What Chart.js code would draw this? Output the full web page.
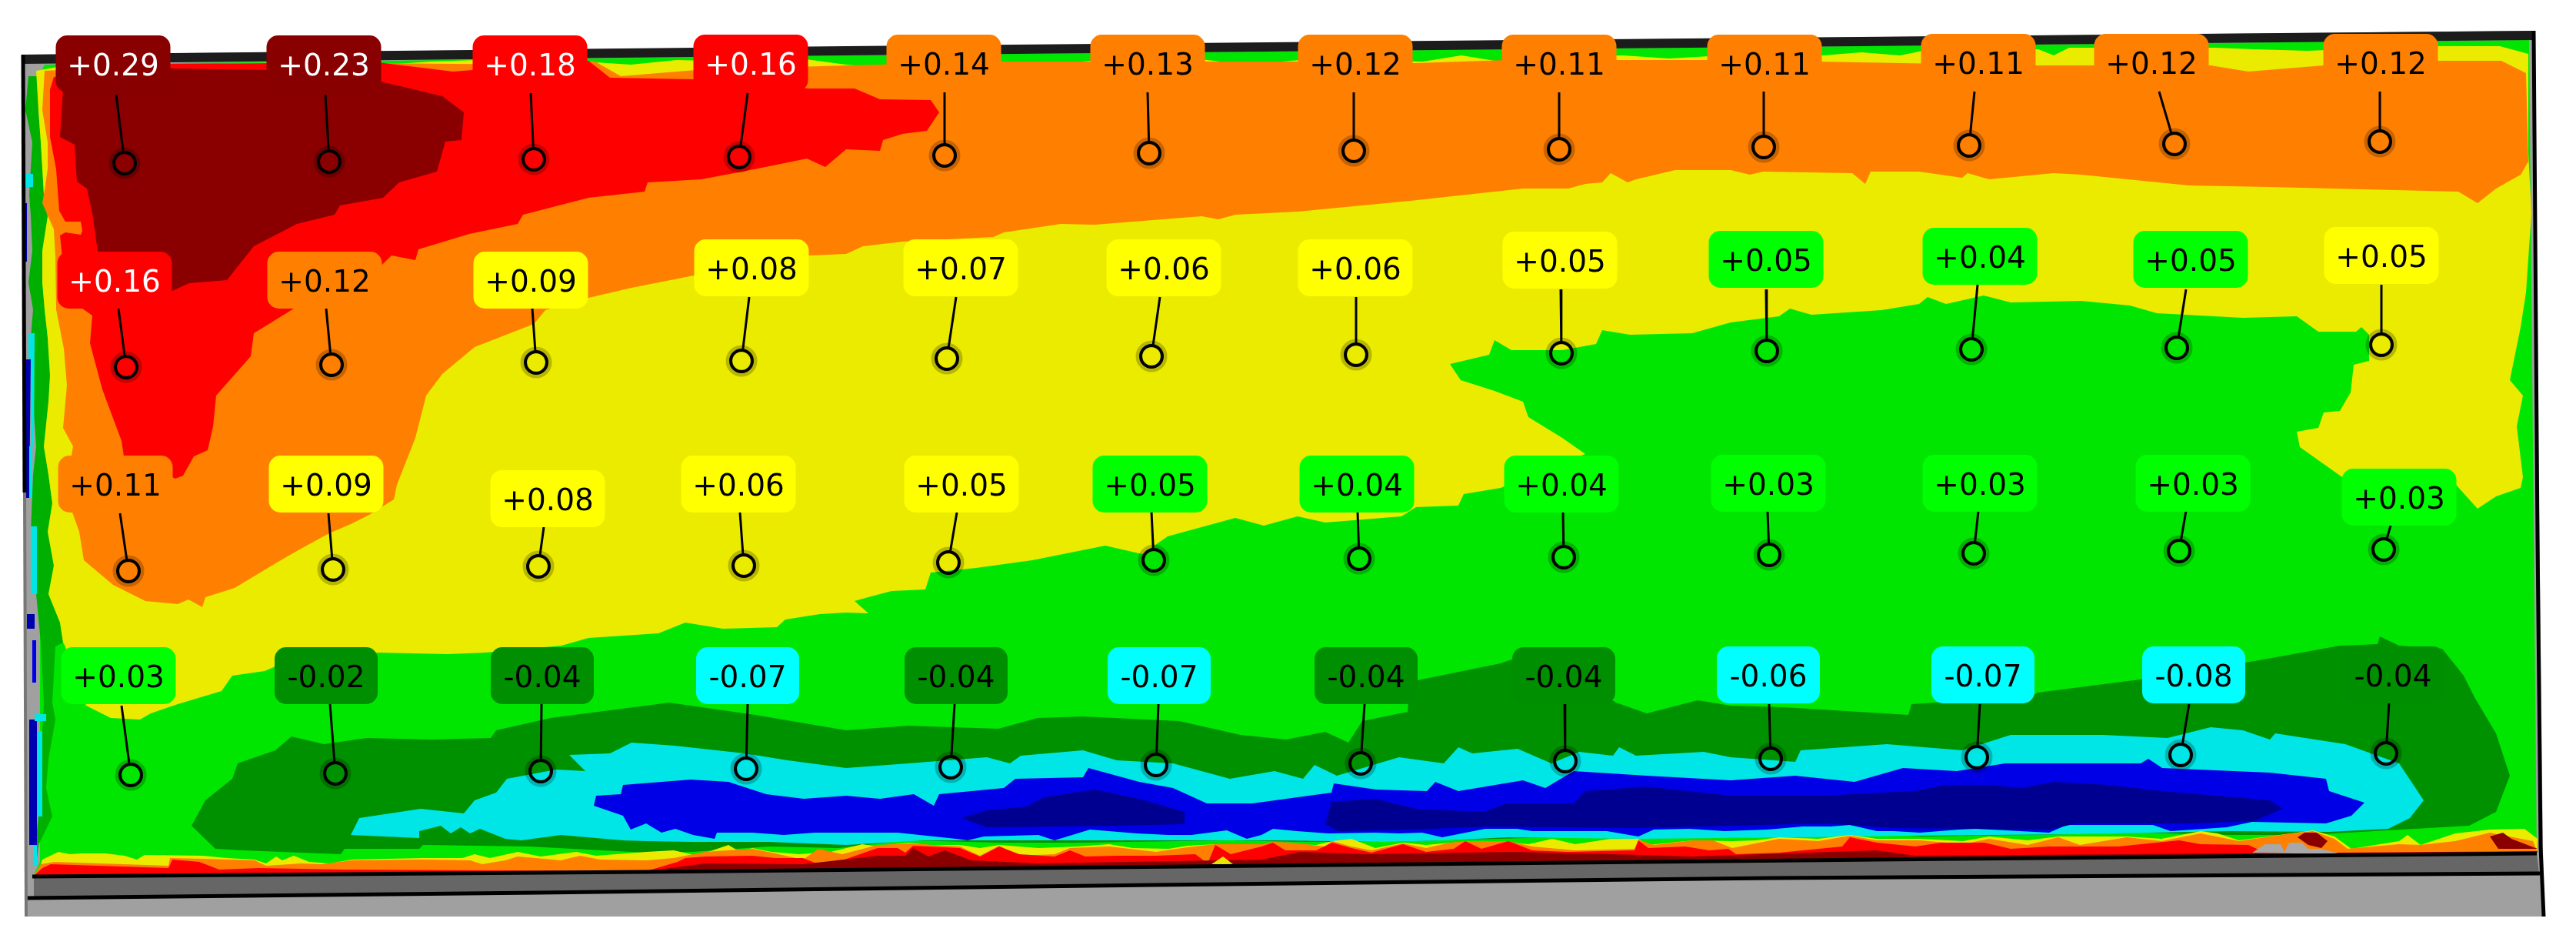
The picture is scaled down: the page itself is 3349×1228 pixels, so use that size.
<!DOCTYPE html>
<html>
<head>
<meta charset="utf-8">
<title>Strain map</title>
<script src="https://cdn.jsdelivr.net/npm/chart.js@4"></script>
<style>
  html, body { margin: 0; padding: 0; background: #fff; }
  canvas { display: block; }
</style>
</head>
<body>
<canvas id="strainChart" width="3349" height="1228"></canvas>
<script>
// gauge readings, one list per row of the plate
const row1Values = [0.29, 0.23, 0.18, 0.16, 0.14, 0.13, 0.12, 0.11, 0.11, 0.11, 0.12, 0.12];
const row2Values = [0.16, 0.12, 0.09, 0.08, 0.07, 0.06, 0.06, 0.05, 0.05, 0.04, 0.05, 0.05];
const row3Values = [0.11, 0.09, 0.08, 0.06, 0.05, 0.05, 0.04, 0.04, 0.03, 0.03, 0.03, 0.03];
const row4Values = [0.03, -0.02, -0.04, -0.07, -0.04, -0.07, -0.04, -0.04, -0.06, -0.07, -0.08, -0.04];
// colour class of each label
const row1Bands = 'DDRROOOOOOOO';
const row2Bands = 'ROYYYYYYGGGY';
const row3Bands = 'OYYYYGGGGGGG';
const row4Bands = 'GKKCKCKKCCCK';

// gauge positions
const ringX = [162,428,694,961,1228,1494,1760,2027,2293,2560,2827,3094,
  164,431,697,964,1231,1497,1763,2030,2297,2563,2830,3096,
  167,433,700,967,1233,1500,1767,2033,2300,2566,2833,3099,
  170,436,703,970,1236,1503,1769,2035,2302,2570,2835,3102];
const ringY = [212,210,207,204,202,199,196,194,191,189,187,184,
  477,474,471,469,466,463,461,459,456,454,452,448,
  742,740,736,735,731,728,726,724,721,719,716,714,
  1007,1005,1002,999,997,994,992,989,986,984,981,979];
const leadX = [151,423,690,972,1228,1492,1760,2027,2293,2567,2807,3094,
  154,424,692,974,1243,1508,1763,2029,2296,2571,2842,3096,
  156,427,707,962,1244,1497,1765,2032,2298,2572,2842,3108,
  158,429,704,972,1241,1506,1774,2034,2300,2574,2846,3106];
const leadY = [123,123,121,121,120,120,120,120,119,119,119,119,
  401,401,401,386,386,386,386,376,376,370,376,370,
  667,667,685,666,666,665,665,665,664,664,664,683,
  917,915,915,915,915,915,915,915,915,915,915,913];
const labelX = [147,421,689,976,1227,1492,1762,2027,2294,2572,2797,3095,
  149,422,690,977,1249,1513,1762,2028,2296,2574,2848,3096,
  150,424,712,960,1250,1495,1764,2030,2299,2574,2851,3119,
  154,424,705,972,1243,1507,1776,2033,2299,2578,2852,3111];
const labelY = [83,83,83,82,82,82,82,82,82,81,81,81,
  364,364,364,348,348,348,348,338,337,333,337,332,
  629,629,648,629,629,629,629,629,628,628,628,646,
  878,878,878,878,878,878,878,878,877,877,877,877];

// contour outlines
const plateOutline = [[28,71],[3294,40],[3307,1191],[34,1191]];
const greenBase = [[52,96],[58,84],[1100,72],[3288,52],[3298,1110],[1640,1125],[840,1133],[44,1137],[52,1120]];
const yellowRegion = [[47,92],[80,86],[230,84],[330,82],[440,80],[500,84],[560,80],[620,78],[760,80],[820,84],[880,78],[960,80],[1040,76],[1100,84],[1150,88],[1310,80],[1360,84],[1430,78],[1490,74],[1570,78],[1620,84],[1690,78],[1850,80],[1900,72],[1950,80],[2010,74],[2110,72],[2170,76],[2240,72],[2370,72],[2420,68],[2470,72],[2500,66],[2650,64],[2670,72],[2690,62],[2730,62],[2880,62],[2930,64],[3000,66],[3100,62],[3170,60],[3250,60],[3287,70],[3287,198],[3291,277],[3284,380],[3277,425],[3263,494],[3280,514],[3272,554],[3280,620],[3277,634],[3245,645],[3221,661],[3193,630],[3119,611],[3045,620],[2990,581],[2986,561],[3014,556],[3021,536],[3042,534],[3056,510],[3060,474],[3080,469],[3080,435],[3070,425],[3063,431],[3014,431],[2986,411],[2916,413],[2804,407],[2769,397],[2706,391],[2614,393],[2579,384],[2530,395],[2506,386],[2495,395],[2446,403],[2355,409],[2327,401],[2313,411],[2250,419],[2200,433],[2119,435],[2083,429],[2075,447],[2031,455],[1965,455],[1943,442],[1936,461],[1885,473],[1899,494],[1943,508],[1980,522],[1987,542],[2031,569],[2061,590],[2000,612],[1951,634],[1903,642],[1896,657],[1841,659],[1822,671],[1723,679],[1687,671],[1643,683],[1606,673],[1518,697],[1485,720],[1437,709],[1342,728],[1269,738],[1210,744],[1203,766],[1159,768],[1129,776],[1111,781],[1129,797],[1100,796],[1066,798],[1021,805],[1010,815],[940,817],[891,809],[856,823],[765,829],[730,839],[631,848],[582,850],[491,848],[358,866],[344,872],[302,878],[288,898],[231,915],[196,927],[182,935],[144,933],[112,917],[84,838],[82,835],[78,809],[63,772],[70,735],[62,691],[68,654],[63,617],[57,580],[63,522],[65,488],[62,439],[58,402],[55,367],[55,326],[62,281],[57,253],[55,219],[53,185],[50,143]];
const orangeRegion = [[58,92],[230,85],[480,82],[700,84],[772,79],[807,99],[905,91],[1100,85],[1300,80],[1560,80],[1700,80],[1840,82],[1960,78],[2250,78],[2640,85],[2874,85],[2923,93],[3021,85],[3161,79],[3252,79],[3284,95],[3287,210],[3277,227],[3245,245],[3221,264],[3196,249],[2951,243],[2846,241],[2706,227],[2670,225],[2586,233],[2558,225],[2551,231],[2495,223],[2432,223],[2425,239],[2408,225],[2292,223],[2275,227],[2250,221],[2178,221],[2127,233],[2116,237],[2094,225],[2083,237],[2061,239],[2039,245],[1980,245],[1833,261],[1687,275],[1606,279],[1584,285],[1562,281],[1423,292],[1379,291],[1305,302],[1291,308],[1173,314],[1122,320],[1100,330],[1052,332],[912,356],[821,374],[765,387],[709,403],[694,421],[617,451],[575,486],[554,514],[540,569],[516,630],[512,649],[480,669],[456,681],[428,693],[393,712],[365,728],[305,764],[267,776],[263,789],[245,779],[231,785],[189,781],[147,760],[109,728],[103,691],[92,660],[88,620],[95,580],[82,556],[87,501],[83,453],[73,402],[72,333],[70,298],[55,264],[58,247],[62,219],[62,185],[55,143]];
const redRegion = [[70,100],[224,83],[491,81],[589,93],[765,79],[793,101],[901,103],[1052,115],[1100,115],[1111,115],[1144,129],[1210,130],[1221,146],[1205,170],[1173,174],[1148,182],[1144,196],[1100,194],[1073,217],[1049,206],[1010,214],[975,221],[912,233],[842,237],[838,249],[765,257],[680,279],[673,291],[610,304],[544,324],[540,338],[509,332],[470,370],[382,401],[330,433],[326,463],[281,514],[277,554],[270,585],[252,593],[238,618],[228,622],[161,593],[158,573],[133,506],[117,446],[120,410],[84,385],[80,325],[78,306],[85,302],[105,305],[107,300],[105,288],[85,288],[77,274],[73,220],[65,178],[65,116]];
const darkRedRegion = [[83,100],[224,89],[351,91],[491,105],[533,115],[575,125],[603,146],[600,182],[579,184],[568,223],[519,237],[498,257],[442,267],[435,279],[386,291],[330,320],[295,364],[246,368],[224,378],[140,340],[127,326],[120,277],[113,245],[100,236],[97,188],[78,178]];
const darkGreenRegion = [[249,1073],[267,1040],[302,1012],[309,992],[358,975],[379,957],[421,967],[477,959],[561,961],[638,959],[645,949],[716,933],[870,913],[982,929],[1100,949],[1181,943],[1298,947],[1349,933],[1408,931],[1533,937],[1613,955],[1672,961],[1723,951],[1753,965],[1771,937],[1830,925],[1833,886],[1951,862],[2000,845],[2101,913],[2141,927],[2207,910],[2250,917],[2320,919],[2481,929],[2485,915],[2642,904],[2649,900],[2790,882],[2937,858],[3042,839],[3091,837],[3094,827],[3119,839],[3175,843],[3203,878],[3217,906],[3245,953],[3263,1008],[3245,1055],[3210,1073],[3105,1079],[3000,1085],[2900,1085],[2780,1082],[2650,1085],[2500,1087],[2400,1082],[2250,1089],[2100,1086],[1950,1090],[1800,1094],[1700,1094],[1600,1092],[1400,1095],[1300,1095],[1180,1092],[1090,1102],[1000,1100],[900,1107],[840,1108],[688,1100],[550,1098],[545,1103],[448,1103],[443,1110],[315,1105],[280,1103]];
const cyanRegion = [[456,1085],[467,1063],[547,1051],[603,1057],[617,1040],[645,1030],[659,1012],[723,1000],[761,1002],[740,981],[793,979],[821,965],[877,969],[968,979],[1024,988],[1100,998],[1181,992],[1283,984],[1313,992],[1327,982],[1408,975],[1452,988],[1525,992],[1599,1012],[1657,1002],[1694,1012],[1709,994],[1738,1008],[1819,984],[1877,992],[1896,971],[1914,979],[1973,973],[2017,992],[2053,977],[2097,982],[2105,971],[2127,982],[2215,977],[2250,984],[2334,990],[2341,975],[2453,967],[2551,975],[2614,955],[2734,955],[2818,959],[2874,945],[2916,949],[2951,961],[2958,953],[3049,967],[3119,992],[3151,1040],[3133,1063],[3105,1077],[3028,1081],[2900,1080],[2700,1084],[2480,1086],[2340,1088],[2130,1090],[1960,1088],[1880,1092],[1800,1094],[1660,1092],[1540,1092],[1350,1092],[1200,1092],[1100,1098],[1000,1094],[900,1094],[840,1093],[810,1092],[729,1085],[678,1092],[657,1090],[624,1077],[611,1083],[599,1075],[586,1083],[573,1073],[545,1080],[545,1089]];
const blueRegion = [[772,1047],[775,1034],[807,1032],[810,1020],[898,1013],[947,1016],[996,1032],[1045,1038],[1100,1034],[1144,1038],[1188,1032],[1214,1047],[1221,1032],[1305,1024],[1320,1012],[1408,1010],[1415,998],[1481,1016],[1525,1024],[1569,1044],[1628,1044],[1731,1030],[1734,1018],[1789,1026],[1855,1028],[1866,1016],[1896,1028],[1980,1014],[2009,1024],[2046,1002],[2141,1008],[2250,1014],[2334,1008],[2411,1016],[2474,998],[2544,1002],[2607,992],[2783,992],[2793,986],[2811,998],[2951,1004],[3024,1012],[3028,1028],[3074,1043],[3057,1060],[3024,1070],[2928,1068],[2895,1075],[2822,1080],[2799,1072],[2687,1072],[2664,1082],[2569,1077],[2547,1078],[2496,1082],[2462,1080],[2440,1080],[2405,1072],[2380,1074],[2344,1074],[2298,1078],[2242,1080],[2196,1077],[2150,1078],[2130,1087],[2089,1080],[1992,1080],[1972,1077],[1931,1077],[1875,1088],[1849,1082],[1819,1083],[1788,1082],[1727,1083],[1686,1080],[1655,1077],[1640,1085],[1621,1090],[1595,1079],[1549,1085],[1519,1085],[1478,1083],[1417,1078],[1371,1092],[1350,1085],[1279,1087],[1258,1092],[1243,1090],[1167,1082],[1115,1082],[1059,1082],[1019,1085],[978,1082],[932,1082],[929,1090],[901,1085],[878,1077],[860,1082],[840,1070],[820,1078],[810,1060]];
const darkBlueLeft = [[1250,1063],[1283,1053],[1335,1048],[1357,1036],[1423,1026],[1481,1038],[1540,1055],[1540,1071],[1452,1073],[1283,1075]];
const darkBlueRight = [[1723,1071],[1731,1042],[1789,1038],[1841,1051],[1929,1055],[1958,1044],[2046,1044],[2061,1028],[2141,1022],[2250,1034],[2369,1034],[2488,1028],[2530,1020],[2586,1020],[2628,1024],[2670,1016],[2741,1020],[2811,1028],[2951,1040],[2968,1051],[2930,1067],[2850,1070],[2700,1070],[2664,1078],[2460,1076],[2376,1070],[2127,1076],[1936,1074],[1833,1078],[1740,1080]];

// hot strip along the bottom edge
const stripBottom = [[3298,1109],[2440,1117],[1640,1125],[840,1133],[44,1138]];
const yellowStripTop = [[48,1138],[55,1117],[76,1107],[91,1110],[106,1109],[137,1109],[162,1112],[178,1117],[188,1111],[264,1112],[295,1115],[331,1117],[346,1122],[359,1113],[367,1118],[382,1112],[402,1120],[428,1122],[458,1117],[550,1115],[601,1115],[617,1110],[637,1115],[673,1107],[703,1113],[749,1107],[775,1112],[840,1107],[876,1105],[906,1112],[947,1098],[962,1107],[978,1102],[1003,1107],[1039,1110],[1080,1107],[1121,1097],[1141,1100],[1161,1097],[1182,1095],[1207,1098],[1248,1098],[1274,1102],[1299,1098],[1350,1102],[1401,1100],[1442,1097],[1473,1102],[1519,1103],[1544,1099],[1580,1097],[1621,1098],[1640,1098],[1655,1095],[1681,1097],[1711,1098],[1732,1093],[1757,1090],[1788,1102],[1824,1095],[1854,1098],[1910,1093],[1946,1093],[1987,1097],[2018,1090],[2048,1097],[2094,1090],[2130,1090],[2143,1098],[2201,1092],[2252,1093],[2283,1092],[2313,1088],[2364,1090],[2405,1085],[2440,1090],[2496,1090],[2552,1093],[2586,1087],[2636,1092],[2676,1087],[2765,1087],[2810,1090],[2861,1080],[2883,1083],[2911,1092],[2979,1083],[3007,1079],[3035,1087],[3057,1103],[3119,1093],[3130,1085],[3147,1098],[3192,1083],[3237,1078],[3282,1077],[3299,1090]];
const orangeStripTop = [[53,1123],[71,1120],[219,1125],[221,1115],[264,1116],[331,1118],[346,1125],[392,1122],[418,1123],[458,1118],[550,1117],[611,1118],[627,1123],[657,1118],[673,1113],[729,1118],[754,1112],[780,1117],[840,1118],[876,1115],[917,1107],[947,1105],[978,1103],[1003,1108],[1044,1117],[1064,1103],[1095,1110],[1141,1098],[1182,1096],[1248,1100],[1274,1112],[1299,1099],[1325,1112],[1371,1110],[1391,1102],[1442,1100],[1503,1107],[1544,1101],[1580,1097],[1640,1097],[1655,1094],[1681,1095],[1722,1100],[1732,1093],[1757,1100],[1783,1105],[1824,1096],[1854,1102],[1885,1095],[1910,1093],[1961,1093],[1992,1100],[2048,1105],[2125,1103],[2130,1091],[2150,1098],[2201,1092],[2227,1092],[2252,1102],[2313,1090],[2364,1093],[2405,1086],[2440,1092],[2496,1092],[2552,1097],[2586,1090],[2636,1098],[2676,1088],[2704,1098],[2765,1088],[2810,1093],[2861,1083],[2911,1093],[2979,1083],[3007,1080],[3035,1090],[3052,1103],[3119,1097],[3147,1098],[3192,1093],[3237,1082],[3293,1093],[3299,1107]];
const redStripTop = [[55,1128],[66,1123],[219,1128],[224,1117],[259,1120],[285,1130],[336,1128],[448,1130],[840,1132],[881,1120],[891,1115],[917,1113],[978,1112],[1008,1115],[1044,1115],[1064,1123],[1095,1118],[1141,1102],[1167,1102],[1177,1108],[1187,1099],[1248,1102],[1274,1113],[1299,1100],[1325,1110],[1371,1113],[1391,1105],[1411,1113],[1452,1112],[1503,1112],[1554,1110],[1570,1122],[1580,1098],[1600,1110],[1640,1100],[1655,1095],[1671,1105],[1711,1105],[1732,1095],[1757,1102],[1783,1108],[1824,1097],[1854,1107],[1890,1103],[1905,1093],[1926,1103],[1961,1093],[1992,1105],[2038,1107],[2125,1105],[2130,1092],[2143,1102],[2191,1100],[2222,1105],[2247,1103],[2257,1110],[2313,1108],[2395,1100],[2405,1088],[2440,1095],[2490,1100],[2524,1095],[2580,1095],[2614,1103],[2664,1100],[2754,1100],[2833,1092],[2861,1097],[2923,1098],[2945,1108],[3040,1108],[3299,1106]];
const darkRedStrip = [[840,1132],[917,1122],[1044,1123],[1141,1112],[1177,1112],[1187,1102],[1207,1113],[1228,1105],[1263,1118],[1350,1122],[1640,1117],[1691,1107],[1778,1110],[1895,1108],[1967,1107],[2099,1110],[2201,1113],[2440,1105],[2490,1112],[2900,1109],[3298,1107],[3298,1109],[2440,1117],[1640,1125]];
const darkRedBlob = [[2987,1088],[2996,1082],[3012,1082],[3026,1093],[3018,1102],[3001,1098]];
const darkRedCorner = [[3237,1087],[3254,1082],[3265,1090],[3299,1103],[3248,1103]];
const grayPatch = [[2928,1108],[2945,1097],[2965,1097],[2970,1107],[2976,1095],[2993,1095],[3001,1103],[3018,1103],[3043,1110]];
const spikePatch = [[1575,1123],[1590,1113],[1603,1123]];

// rainbow fringe down the left edge
const fringeDark = [[37,99],[50,99],[50,143],[53,185],[55,219],[57,253],[62,281],[55,326],[55,367],[58,402],[62,439],[65,488],[63,522],[57,580],[63,617],[68,654],[62,691],[70,735],[63,772],[78,809],[82,835],[72,840],[68,913],[72,935],[63,987],[60,1024],[68,1061],[50,1098],[47,1124],[43,1124],[50,1061],[53,987],[57,913],[53,835],[47,772],[40,691],[43,617],[47,580],[43,522],[43,488],[40,439],[43,402],[37,367],[42,326],[40,281],[38,253],[40,219],[42,185],[33,143]];
const fringeBlueA = [[29,264],[35,264],[35,340],[29,340]];
const fringeBlueB = [[33,467],[40,467],[38,647],[32,647]];
const fringeBlueC = [[35,798],[45,798],[45,817],[35,817]];
const fringeBlueD = [[42,832],[47,832],[47,887],[42,887]];
const fringeBlueE = [[38,935],[48,935],[48,1098],[38,1098]];
const fringeCyanA = [[33,226],[43,226],[43,243],[33,243]];
const fringeCyanB = [[37,433],[45,433],[44,580],[40,580],[40,467],[37,464]];
const fringeCyanC = [[38,580],[42,580],[42,647],[38,647]];
const fringeCyanD = [[40,684],[48,684],[48,772],[40,772]];
const fringeCyanE = [[45,928],[60,928],[60,937],[45,937]];
const fringeCyanF = [[48,950],[55,950],[55,1061],[48,1061]];
const fringeCyanG = [[43,1098],[48,1098],[48,1124],[43,1124]];

// frame of the plate and the ledge under it
const ledgeDark = [[44,1139],[840,1133],[1640,1125],[2440,1117],[3298,1109],[3301,1135],[1500,1150],[44,1166]];
const topEdge = [[28,71],[1100,60],[3294,40],[3294,52],[1100,72],[28,83]];
const ledgeTopLine = [[42,1139],[840,1133],[1640,1125],[2440,1117],[3298,1109]];
const ledgeLowLine = [[34,1167],[700,1160],[1500,1150],[2300,1141],[3302,1135]];
const leftEdgeUpper = [[30,71],[32,640]];
const leftEdgeLower = [[32,640],[34,1191]];
const rightEdge = [[3294,40],[3299,700],[3303,1100],[3307,1191]];

const regionColors = { D: '#8a0000', R: '#ff0000', O: '#ff7f00', Y: '#ebeb00', G: '#00e600', K: '#009100', C: '#00e6e6', B: '#0000e6', N: '#000090' };
const labelColors = { D: '#880000', R: '#ff0000', O: '#ff8000', Y: '#ffff00', G: '#00ff00', K: '#008f00', C: '#00ffff' };

const toPoints = list => list.map(p => ({ x: p[0], y: p[1] }));

const layers = [
    [plateOutline, '#a0a0a0'],
    [greenBase, regionColors.G],
    [fringeDark, '#00b000'],
    [fringeBlueA, '#0000b0'], [fringeBlueB, '#0000b0'], [fringeBlueC, '#0000b0'], [fringeBlueD, '#0000e6'], [fringeBlueE, '#0000b0'],
    [fringeCyanA, regionColors.C], [fringeCyanB, regionColors.C], [fringeCyanC, regionColors.C], [fringeCyanD, regionColors.C],
    [fringeCyanE, regionColors.C], [fringeCyanF, regionColors.C], [fringeCyanG, regionColors.C],
    [yellowRegion, regionColors.Y],
    [orangeRegion, regionColors.O],
    [redRegion, regionColors.R],
    [darkRedRegion, regionColors.D],
    [darkGreenRegion, regionColors.K],
    [cyanRegion, regionColors.C],
    [blueRegion, regionColors.B],
    [darkBlueLeft, regionColors.N],
    [darkBlueRight, regionColors.N],
    [yellowStripTop.concat(stripBottom), regionColors.Y],
    [orangeStripTop.concat(stripBottom), regionColors.O],
    [redStripTop.concat(stripBottom), regionColors.R],
    [darkRedStrip, regionColors.D],
    [darkRedBlob, regionColors.D],
    [darkRedCorner, regionColors.D],
    [grayPatch, '#a8a8a8'],
    [spikePatch, '#e6e600'],
    [ledgeDark, '#666666'],
    [topEdge, '#1c1c1c']
];

const edges = [[ledgeTopLine, 5, '#000'], [ledgeLowLine, 5, '#000'], [leftEdgeUpper, 5, '#000'], [leftEdgeLower, 4, '#777'], [rightEdge, 5, '#000']];

const labelValues = row1Values.concat(row2Values, row3Values, row4Values);
const labelBands = (row1Bands + row2Bands + row3Bands + row4Bands).split('');

// leader runs from under the label to the rim of the ring
const ringRadius = 14;
const leaders = [];
ringX.forEach((x, i) => {
    const dx = x - leadX[i], dy = ringY[i] - leadY[i];
    const len = Math.hypot(dx, dy);
    leaders.push({ x: leadX[i], y: leadY[i] });
    leaders.push({ x: x - dx / len * ringRadius, y: ringY[i] - dy / len * ringRadius });
    leaders.push({ x: NaN, y: NaN });
});
const rings = ringX.map((x, i) => ({ x: x, y: ringY[i] }));

const datasets = [];
layers.forEach(layer => {
    datasets.push({ data: toPoints(layer[0]), showLine: true, fill: 'shape', backgroundColor: layer[1], borderWidth: 0, pointRadius: 0 });
});
edges.forEach(edge => {
    datasets.push({ data: toPoints(edge[0]), showLine: true, fill: false, borderColor: edge[2], borderWidth: edge[1], pointRadius: 0 });
});
// soft dark halo round each ring, interior left clear
datasets.push({ data: rings, showLine: false, pointRadius: 16, pointBackgroundColor: 'rgba(0,0,0,0)', pointBorderColor: 'rgba(0,0,0,0.22)', pointBorderWidth: 9 });
datasets.push({ data: leaders, showLine: true, fill: false, spanGaps: false, borderColor: '#000', borderWidth: 3, pointRadius: 0 });
datasets.push({ data: rings, showLine: false, pointRadius: ringRadius, pointBackgroundColor: 'rgba(0,0,0,0)', pointBorderColor: '#000', pointBorderWidth: 4 });

// later entries paint on top
datasets.forEach((d, i) => { d.order = datasets.length - i; });

const gaugeLabels = {
    id: 'gaugeLabels',
    afterDatasetsDraw(chart) {
        const ctx = chart.ctx;
        const sx = chart.scales.x, sy = chart.scales.y;
        ctx.save();
        ctx.font = '39px "DejaVu Sans"';
        ctx.textAlign = 'center';
        ctx.textBaseline = 'middle';
        labelValues.forEach((v, i) => {
            const cx = sx.getPixelForValue(labelX[i]);
            const cy = sy.getPixelForValue(labelY[i]);
            const w = v < 0 ? 134 : 149;
            const band = labelBands[i];
            ctx.fillStyle = labelColors[band];
            ctx.beginPath();
            ctx.roundRect(cx - w / 2, cy - 37, w, 74, 15);
            ctx.fill();
            ctx.fillStyle = (band === 'D' || band === 'R') ? '#fff' : '#000';
            ctx.fillText((v > 0 ? '+' : '') + v.toFixed(2), cx, cy + 5);
        });
        ctx.restore();
    }
};

new Chart(document.getElementById('strainChart').getContext('2d'), {
    type: 'scatter',
    data: { datasets: datasets },
    options: {
        responsive: false,
        animation: false,
        devicePixelRatio: 1,
        layout: { padding: 0, autoPadding: false },
        plugins: { legend: { display: false }, tooltip: { enabled: false }, title: { display: false } },
        elements: { line: { tension: 0 } },
        scales: {
            x: { type: 'linear', display: false, min: 0, max: 3349 },
            y: { type: 'linear', display: false, min: 0, max: 1228, reverse: true }
        }
    },
    plugins: [gaugeLabels]
});
</script>
</body>
</html>
